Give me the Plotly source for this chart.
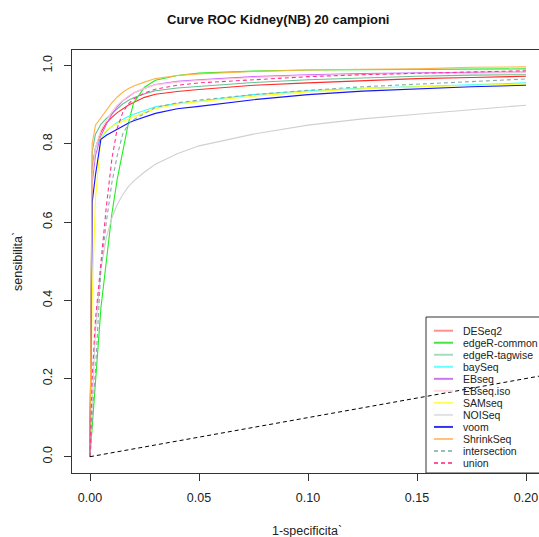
import plotly.graph_objects as go

# ---------------- data ----------------
fpr = [0, 0.001, 0.0025, 0.005, 0.0075, 0.01, 0.0125, 0.015, 0.0175, 0.02,
       0.025, 0.03, 0.04, 0.05, 0.075, 0.1, 0.125, 0.15, 0.175, 0.2]

methods = ["DESeq2", "edgeR-common", "edgeR-tagwise", "baySeq", "EBseq", "EBseq.iso",
           "SAMseq", "NOISeq", "voom", "ShrinkSeq", "intersection", "union"]

tpr_DESeq2 = [0, 0.74, 0.79, 0.83, 0.853, 0.868, 0.88, 0.89, 0.899, 0.906,
              0.919, 0.927, 0.934, 0.939, 0.95, 0.956, 0.962, 0.967, 0.97, 0.973]
tpr_edgeR_common = [0, 0.08, 0.20, 0.38, 0.50, 0.62, 0.71, 0.78, 0.85, 0.905,
                    0.945, 0.963, 0.975, 0.981, 0.986, 0.989, 0.99, 0.991, 0.991, 0.992]
tpr_edgeR_tagwise = [0, 0.78, 0.825, 0.85, 0.865, 0.877, 0.89, 0.902, 0.911, 0.918,
                     0.928, 0.936, 0.943, 0.947, 0.957, 0.964, 0.969, 0.973, 0.976, 0.977]
tpr_baySeq = [0, 0.72, 0.79, 0.815, 0.832, 0.845, 0.855, 0.863, 0.87, 0.876,
              0.886, 0.895, 0.903, 0.909, 0.926, 0.936, 0.942, 0.947, 0.952, 0.956]
tpr_EBseq = [0, 0.70, 0.77, 0.82, 0.85, 0.875, 0.895, 0.91, 0.92, 0.93,
             0.942, 0.952, 0.96, 0.964, 0.972, 0.977, 0.98, 0.982, 0.983, 0.984]
tpr_EBseq_iso = [0, 0.72, 0.79, 0.835, 0.86, 0.882, 0.9, 0.912, 0.922, 0.93,
                 0.942, 0.951, 0.958, 0.962, 0.97, 0.975, 0.978, 0.98, 0.981, 0.982]
tpr_SAMseq = [0, 0.4, 0.66, 0.815, 0.835, 0.845, 0.852, 0.858, 0.863, 0.868,
              0.88, 0.89, 0.902, 0.908, 0.922, 0.933, 0.941, 0.946, 0.95, 0.953]
tpr_NOISeq = [0, 0.12, 0.32, 0.48, 0.56, 0.61, 0.645, 0.67, 0.69, 0.705,
              0.728, 0.748, 0.775, 0.795, 0.825, 0.848, 0.864, 0.876, 0.888, 0.899]
tpr_voom = [0, 0.65, 0.72, 0.812, 0.822, 0.83, 0.838, 0.846, 0.853, 0.859,
            0.868, 0.878, 0.89, 0.896, 0.913, 0.926, 0.935, 0.941, 0.946, 0.95]
tpr_ShrinkSeq = [0, 0.80, 0.848, 0.868, 0.888, 0.905, 0.92, 0.932, 0.941, 0.948,
                 0.958, 0.967, 0.975, 0.979, 0.985, 0.989, 0.991, 0.992, 0.996, 0.997]
tpr_intersection = [0, 0.08, 0.22, 0.48, 0.6, 0.7, 0.77, 0.825, 0.85, 0.862,
                    0.878, 0.893, 0.905, 0.912, 0.926, 0.937, 0.946, 0.953, 0.96, 0.966]
tpr_union = [0, 0.2, 0.35, 0.5, 0.64, 0.76, 0.84, 0.88, 0.902, 0.915,
             0.93, 0.94, 0.95, 0.956, 0.964, 0.972, 0.977, 0.981, 0.984, 0.987]

diag_x = [0, 1]
diag_y = [0, 1]

x_ticks = [0.00, 0.05, 0.10, 0.15, 0.20]
x_ticklabels = ["0.00", "0.05", "0.10", "0.15", "0.20"]
y_ticks = [0.0, 0.2, 0.4, 0.6, 0.8, 1.0]
y_ticklabels = ["0.0", "0.2", "0.4", "0.6", "0.8", "1.0"]

# ---------------- styles ----------------
series = [tpr_DESeq2, tpr_edgeR_common, tpr_edgeR_tagwise, tpr_baySeq, tpr_EBseq,
          tpr_EBseq_iso, tpr_SAMseq, tpr_NOISeq, tpr_voom, tpr_ShrinkSeq,
          tpr_intersection, tpr_union]
line_colors = ["#ff2a2a", "#22ee22", "#66c190", "#33ffff", "#cc66ff", "#ffc8d4",
               "#ffff22", "#d0d0d0", "#1515ff", "#ffb347", "#88aaaa", "#ff3399"]
legend_colors = ["#ff9090", "#44e444", "#a6dcbc", "#66ffff", "#cc77f0", "#ffd8e0",
                 "#ffff55", "#e2e2e2", "#3333ee", "#ffc080", "#99bbbb", "#ff5599"]
dashes = ["solid"] * 10 + ["4px,3px", "4px,3px"]

W, H = 539, 537
ML, MT, MR, MB = 72, 50, 0, 64
PW, PH = W - ML - MR, H - MT - MB


def px(xp):
    return (xp - ML) / PW


def py(yp):
    return (H - MB - yp) / PH


fig = go.Figure()
for name, ys, c, d in zip(methods, series, line_colors, dashes):
    fig.add_trace(go.Scatter(x=fpr, y=ys, mode="lines", name=name,
                             line=dict(color=c, width=1.1, dash=d),
                             showlegend=False, hoverinfo="skip"))
fig.add_trace(go.Scatter(x=diag_x, y=diag_y, mode="lines",
                         line=dict(color="black", width=1, dash="4px,3px"),
                         showlegend=False, hoverinfo="skip"))

font = "Liberation Sans, Arial, sans-serif"
shapes = []
annotations = []
# legend box (transparent)
shapes.append(dict(type="rect", xref="paper", yref="paper",
                   x0=px(426), x1=px(560), y0=py(473), y1=py(317),
                   line=dict(color="#333333", width=1), fillcolor="rgba(0,0,0,0)"))
for i, (name, c, d) in enumerate(zip(methods, legend_colors, dashes)):
    yc = 330.7 + i * 12.03
    shapes.append(dict(type="line", xref="paper", yref="paper",
                       x0=px(434), x1=px(453), y0=py(yc), y1=py(yc),
                       line=dict(color=c, width=2, dash=d)))
    annotations.append(dict(xref="paper", yref="paper", x=px(461), y=py(yc),
                            text=name, showarrow=False, xanchor="left", yanchor="middle",
                            font=dict(family=font, size=10.5, color="#222222")))

# axis titles and main title
annotations.append(dict(xref="paper", yref="paper", x=px(307), y=py(531),
                        text="1-specificita`", showarrow=False,
                        xanchor="center", yanchor="middle",
                        font=dict(family=font, size=12.5, color="#222222")))
annotations.append(dict(xref="paper", yref="paper", x=px(18), y=py(262),
                        text="sensibilita`", showarrow=False, textangle=-90,
                        xanchor="center", yanchor="middle",
                        font=dict(family=font, size=12.5, color="#222222")))
annotations.append(dict(xref="paper", yref="paper", x=px(278), y=py(20),
                        text="<b>Curve ROC Kidney(NB) 20 campioni</b>", showarrow=False,
                        xanchor="center", yanchor="middle",
                        font=dict(family=font, size=13, color="#111111")))

fig.update_layout(
    width=W, height=H,
    margin=dict(l=ML, r=MR, t=MT, b=MB),
    paper_bgcolor="white", plot_bgcolor="white",
    shapes=shapes, annotations=annotations,
    showlegend=False,
    xaxis=dict(range=[(ML - 90) / 2180, (W - MR - 90) / 2180],
               tickvals=x_ticks, ticktext=x_ticklabels,
               showgrid=False, zeroline=False,
               showline=True, linecolor="#333333", linewidth=1, mirror=True,
               ticks="outside", ticklen=7, tickcolor="#333333",
               ticklabelstandoff=6,
               tickfont=dict(family=font, size=12.5, color="#222222")),
    yaxis=dict(range=[-(473 - 456.7) / 391, 1 + (65.7 - 50) / 391],
               tickvals=y_ticks, ticktext=y_ticklabels,
               showgrid=False, zeroline=False,
               showline=True, linecolor="#333333", linewidth=1, mirror=False,
               ticks="outside", ticklen=7, tickcolor="#333333",
               tickangle=-90, ticklabelstandoff=7,
               tickfont=dict(family=font, size=12.5, color="#222222")),
)

fig.write_html("out.html")
